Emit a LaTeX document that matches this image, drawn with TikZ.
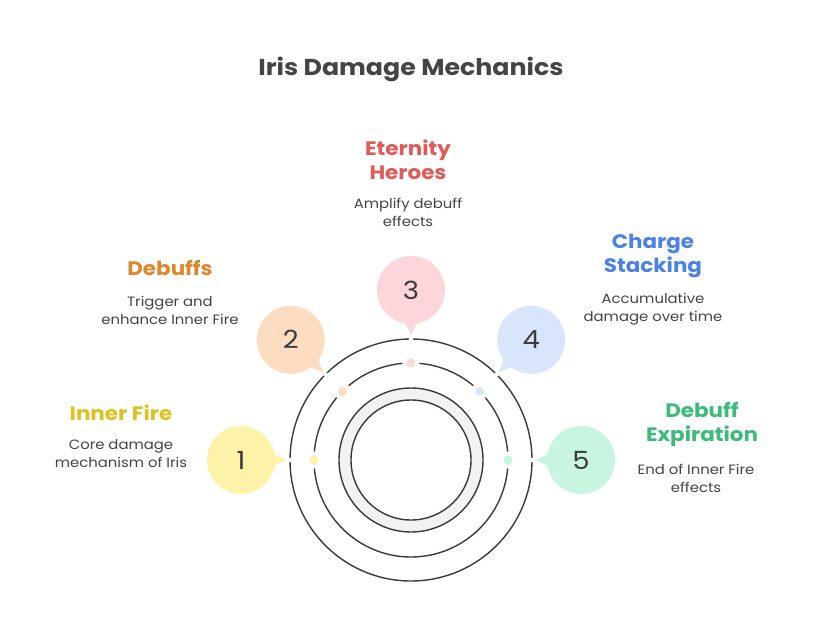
\documentclass[tikz,border=0pt]{standalone}
\usepackage{fontspec}
\setmainfont{Poppins}[FakeStretch=1.1]
\usetikzlibrary{calc}
\definecolor{ink}{HTML}{3A3A3A}
\definecolor{txt}{HTML}{444444}
\definecolor{ringgray}{HTML}{F2F2F2}
\definecolor{fyel}{HTML}{FCF3A8}
\definecolor{fora}{HTML}{FDDDC2}
\definecolor{fpin}{HTML}{FDD6D9}
\definecolor{fblu}{HTML}{D9E5FB}
\definecolor{fgrn}{HTML}{C8F5DF}
\definecolor{tyel}{HTML}{DEC21E}
\definecolor{tora}{HTML}{E0862C}
\definecolor{tpin}{HTML}{E05A5A}
\definecolor{tblu}{HTML}{4A82E6}
\definecolor{tgrn}{HTML}{3DBB7A}
\begin{document}
\begin{tikzpicture}[x=1pt,y=1pt,
  ringline/.style={draw=ink,line width=1.4pt},
  numtext/.style={text=ink,font=\fontsize{25}{25}\selectfont},
  headtext/.style={font=\bfseries\fontsize{19.5}{24}\selectfont,align=center},
  desctext/.style={text=txt,font=\fontsize{13.5}{18}\selectfont,align=center},
  titletext/.style={text=txt,font=\bfseries\fontsize{23}{26}\selectfont}]
\useasboundingbox (0,0) rectangle (816,-636);
\fill[white] (0,0) rectangle (816,-636);
\coordinate (c) at (411,-460);
% gray ring
\fill[ringgray,even odd rule] (c) circle (72) (c) circle (60);
\draw[ringline] (c) circle (72);
\draw[ringline] (c) circle (60);
% outer ring with small gaps
\foreach \a/\b in {1/44,46/89,91/134,136/179,181/359}
  \draw[ringline] ([shift={(\a:121)}]c) arc (\a:\b:121);
% middle ring with gaps around dots
\foreach \a/\b in {5/40,50/85,95/130,140/175,185/355}
  \draw[ringline] ([shift={(\a:97)}]c) arc (\a:\b:97);
% bubbles
\foreach \ang/\col/\n in {180/fyel/1,135/fora/2,90/fpin/3,45/fblu/4,0/fgrn/5}{
  \begin{scope}[shift={(c)},rotate=\ang]
    \fill[\col] (170,0) circle (34);
    \fill[\col] (142,-10) .. controls (134,-4) .. (124,0) .. controls (134,4) .. (142,10) -- cycle;
    \fill[\col] (97,0) circle (4.5);
  \end{scope}
  \node[numtext] (b\n) at ([shift={(\ang:170)}]c) {\n};
}
% title
\node[titletext] (title) at (411,-69) {Iris Damage Mechanics};
% labels
\node[headtext,text=tyel] (h1) at (121,-413) {Inner Fire};
\node[desctext] (d1) at (121,-454) {Core damage\\mechanism of Iris};
\node[headtext,text=tora] (h2) at (170,-268) {Debuffs};
\node[desctext] (d2) at (170,-310) {Trigger and\\enhance Inner Fire};
\node[headtext,text=tpin] (h3) at (408,-159.5) {Eternity\\Heroes};
\node[desctext] (d3) at (408,-212) {Amplify debuff\\effects};
\node[headtext,text=tblu] (h4) at (653,-256) {Charge\\Stacking};
\node[desctext] (d4) at (653,-309) {Accumulative\\damage over time};
\node[headtext,text=tgrn] (h5) at (702,-424.5) {Debuff\\Expiration};
\node[desctext] (d5) at (696,-478) {End of Inner Fire\\effects};
\end{tikzpicture}
\end{document}
